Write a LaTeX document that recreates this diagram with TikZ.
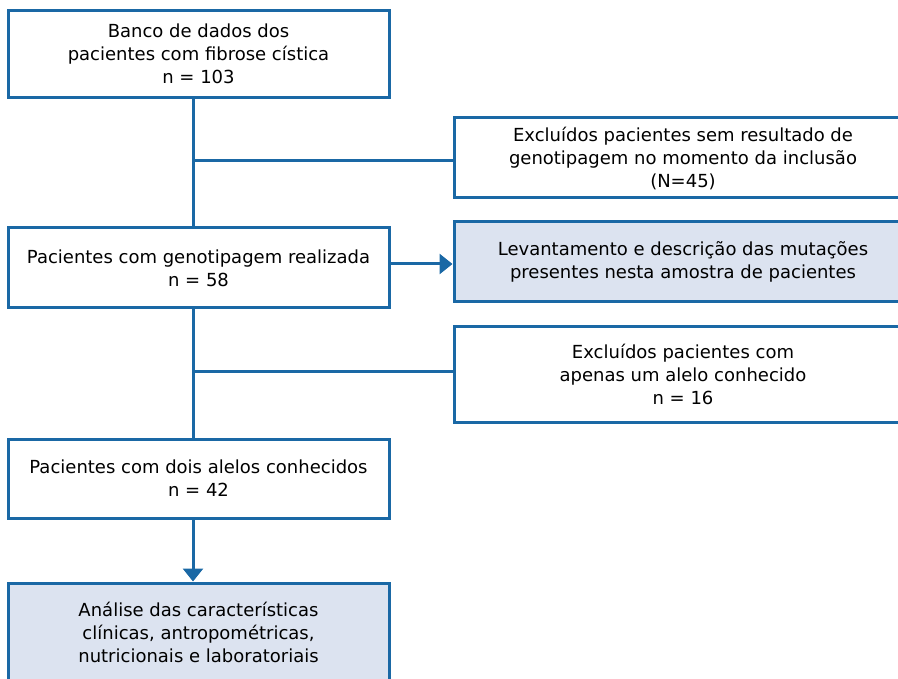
\documentclass[tikz,border=0pt]{standalone}
\usepackage{fontspec}
\setmainfont{DejaVu Sans}
\usetikzlibrary{arrows.meta,positioning}
\definecolor{flowblue}{RGB}{26,104,165}
\definecolor{flowfill}{RGB}{220,227,240}
\tikzset{box/.style={draw=flowblue, line width=3pt, align=center, inner sep=0pt,
  font=\fontsize{18}{23}\selectfont},
shadedbox/.style={box, fill=flowfill},
link/.style={draw=flowblue, line width=3pt},
arrowlink/.style={link, -{Triangle[width=20pt,length=13pt]}}}

\begin{document}
\begin{tikzpicture}[x=1pt, y=-1pt]
\useasboundingbox (0,0) rectangle (898,679);

% left column
\node[box, minimum width=381pt, minimum height=87pt] (banco) at (198.5,54)
  {Banco de dados dos\\pacientes com fibrose cística\\n = 103};
\node[box, minimum width=381pt, minimum height=80pt] (pacientes) at (198.5,268)
  {Pacientes com genotipagem realizada\\n = 58};
\node[box, minimum width=381pt, minimum height=79pt] (alelos) at (198.5,478.5)
  {Pacientes com dois alelos conhecidos\\n = 42};
\node[shadedbox, minimum width=381pt, minimum height=98pt] (analise) at (198.5,632)
  {Análise das características\\clínicas, antropométricas,\\nutricionais e laboratoriais};

% right column
\node[box, minimum width=458pt, minimum height=80pt] (excl1) at (683,158)
  {Excluídos pacientes sem resultado de\\genotipagem no momento da inclusão\\(N=45)};
\node[shadedbox, minimum width=458pt, minimum height=80pt] (levant) at (683,262)
  {Levantamento e descrição das mutações\\presentes nesta amostra de pacientes};
\node[box, minimum width=458pt, minimum height=95pt] (excl2) at (683,374.5)
  {Excluídos pacientes com\\apenas um alelo conhecido\\n = 16};

\coordinate (spine) at (193,0);
\coordinate (j1) at (193,161);
\coordinate (j2) at (193,372);

\draw[link] (banco.south -| spine) -- (pacientes.north -| spine);
\draw[link] (j1) -- (j1 -| excl1.west);
\draw[arrowlink] ([yshift=4pt]pacientes.east) -- ([yshift=4pt]pacientes.east -| levant.west);
\draw[link] (pacientes.south -| spine) -- (alelos.north -| spine);
\draw[link] (j2) -- (j2 -| excl2.west);
\draw[arrowlink] (alelos.south -| spine) -- (analise.north -| spine);

\end{tikzpicture}
\end{document}
